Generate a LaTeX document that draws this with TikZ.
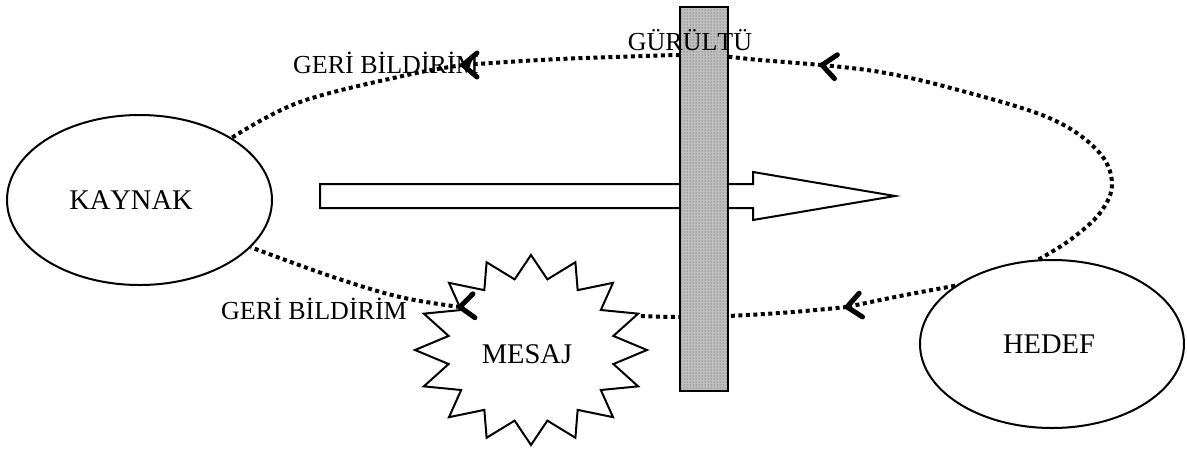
\documentclass[tikz,border=0pt]{standalone}
\usepackage{fontspec}
\setmainfont{Liberation Serif}[Kerning=Off]
\usetikzlibrary{shapes.geometric,patterns}
\tikzset{
  lbl/.style={font=\fontsize{26}{30}\selectfont, inner sep=0pt},
  bigl/.style={font=\fontsize{28.5}{32}\selectfont, inner sep=0pt},
  oval/.style={ellipse, draw, line width=2pt, inner sep=0pt, font=\fontsize{28.5}{32}\selectfont},
  fbline/.style={line width=4pt, dash pattern=on 4pt off 3.5pt},
  chevline/.style={line width=5pt, line cap=round, line join=round},
  chev/.pic={\draw[chevline] (14,-12) -- (0,0) -- (14,12);},
  outline/.style={line width=2pt, line join=miter}
}
\begin{document}
\begin{tikzpicture}[x=1pt,y=-1pt]
\useasboundingbox (0,0) rectangle (1187,448);
% nodes
\node[oval, minimum width=265pt, minimum height=170pt] (K) at (139.5,200) {\kern-17pt KAYNAK};
\node[oval, minimum width=264pt, minimum height=168pt] (H) at (1052,344) {\kern-6pt HEDEF};
\draw[outline, fill=white] plot[samples at={0,...,31}]
  ({531+ifthenelse(mod(\x,2)==0,116,84)*cos(\x*11.25-90)},
   {350+ifthenelse(mod(\x,2)==0,95,72)*sin(\x*11.25-90)}) -- cycle;
\node[bigl, anchor=base] (M) at (527,363) {MESAJ};
% coordinates
\coordinate (a1) at (822,65);
\coordinate (a2) at (463,65);
\coordinate (a3) at (847,307);
\coordinate (a4) at (460,307);
\coordinate (sr) at (638,316);
% message arrow
\draw[outline, fill=white] (320,184) -- (753,184) -- (753,172) -- (895,196)
  -- (753,220) -- (753,208) -- (320,208) -- cycle;
% feedback loops
\draw[fbline] plot[smooth, tension=0.6] coordinates {(H.99) (1070,240) (1100,213) (1112,183) (1097,150) (1047,117) (947,87) (880,72) (a1)};
\draw[fbline] plot[smooth, tension=0.6] coordinates {(a1) (760,60) (700,55) (613,57) (540,60) (a2)};
\draw[fbline] plot[smooth, tension=0.6] coordinates {(a2) (407,75) (300,102) (K.34)};
\draw[fbline] plot[smooth, tension=0.6] coordinates {(H.149) (900,296) (a3)};
\draw[fbline] plot[smooth, tension=0.6] coordinates {(a3) (780,313) (700,317) (sr)};
\draw[fbline] plot[smooth, tension=0.6] coordinates {(a4) (400,297) (333,277) (K.-23)};
\pic[rotate=-7] at (a1) {chev};
\pic at (a2) {chev};
\pic[rotate=8] at (a3) {chev};
\pic[rotate=5] at (a4) {chev};
% noise bar
\fill[black!25] (680,7) rectangle (728,391);
\fill[pattern=dots, pattern color=black!75] (680,7) rectangle (728,391);
\draw[line width=2.5pt] (680,7) rectangle (728,391);
% labels
\node[lbl, anchor=base] (noise) at (690,50) {GÜRÜLTÜ};
\node[lbl, anchor=base] (fb1) at (386,73) {GERİ BİLDİRİM};
\node[lbl, anchor=base] (fb2) at (314,319) {GERİ BİLDİRİM};
\end{tikzpicture}
\end{document}
